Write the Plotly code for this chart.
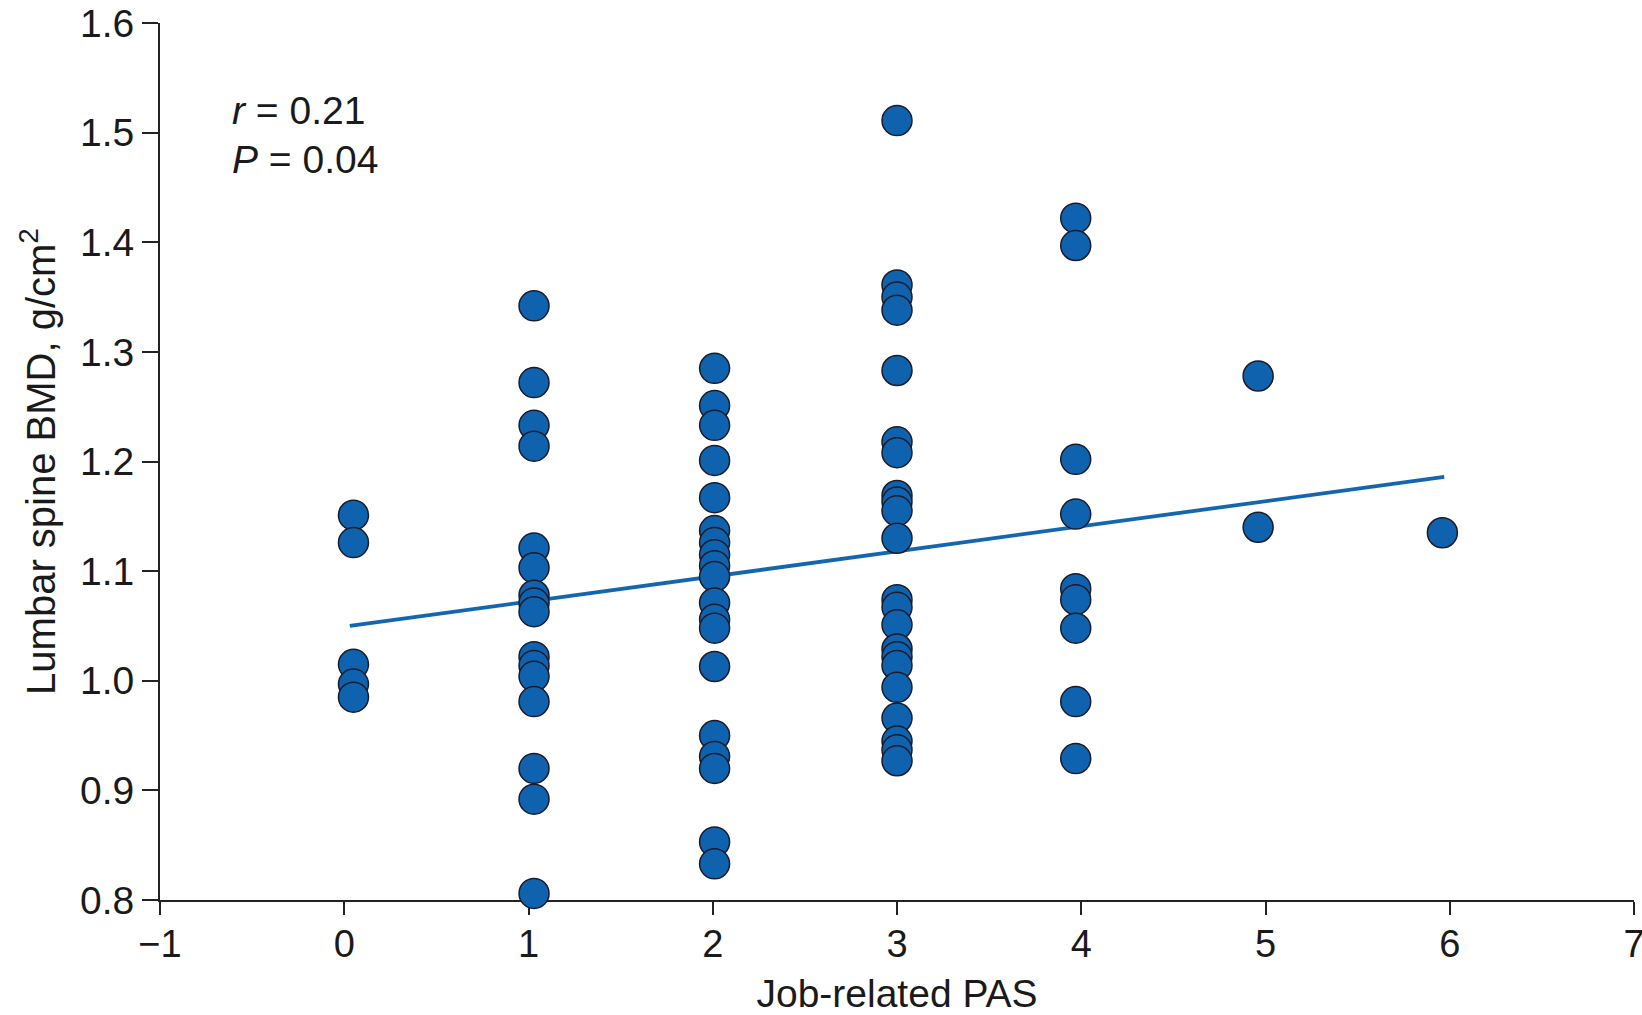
import plotly.graph_objects as go

# Job-related PAS score positions (as drawn) and lumbar spine BMD values (g/cm^2)
pas_positions = [0.05, 1.03, 2.01, 3.0, 3.97, 4.96, 5.96]

bmd_pas0 = [1.151, 1.126, 1.015, 0.997, 0.985]
bmd_pas1 = [1.342, 1.272, 1.233, 1.214, 1.121, 1.103, 1.078, 1.071, 1.063,
            1.022, 1.014, 1.004, 0.981, 0.920, 0.892, 0.806]
bmd_pas2 = [1.285, 1.251, 1.233, 1.201, 1.167, 1.137, 1.126, 1.115, 1.105,
            1.095, 1.071, 1.056, 1.048, 1.013, 0.950, 0.931, 0.920, 0.853, 0.833]
bmd_pas3 = [1.511, 1.361, 1.350, 1.338, 1.283, 1.218, 1.208, 1.169, 1.163,
            1.155, 1.130, 1.074, 1.067, 1.051, 1.029, 1.022, 1.014, 0.994,
            0.966, 0.945, 0.937, 0.927]
bmd_pas4 = [1.422, 1.397, 1.202, 1.152, 1.084, 1.074, 1.048, 0.981, 0.929]
bmd_pas5 = [1.278, 1.140]
bmd_pas6 = [1.135]

groups = [bmd_pas0, bmd_pas1, bmd_pas2, bmd_pas3, bmd_pas4, bmd_pas5, bmd_pas6]

# Regression line end points
line_x = [0.03, 5.97]
line_y = [1.050, 1.186]

x_ticks = [-1, 0, 1, 2, 3, 4, 5, 6, 7]
y_ticks = [0.8, 0.9, 1.0, 1.1, 1.2, 1.3, 1.4, 1.5, 1.6]
y_tick_text = ["0.8", "0.9", "1.0", "1.1", "1.2", "1.3", "1.4", "1.5", "1.6"]

stat_lines = ["<i>r</i> = 0.21", "<i>P</i> = 0.04"]

xs, ys = [], []
for pos, vals in zip(pas_positions, groups):
    xs += [pos] * len(vals)
    ys += vals

BLUE = "#0f63ae"
AXIS = "#222222"
FONT = "Liberation Sans, Arial, Helvetica, sans-serif"

fig = go.Figure()
fig.add_trace(go.Scatter(
    x=line_x, y=line_y, mode="lines",
    line=dict(color="#1466b1", width=3.8),
    hoverinfo="skip", showlegend=False, cliponaxis=False,
))
fig.add_trace(go.Scatter(
    x=xs, y=ys, mode="markers",
    marker=dict(size=30, color=BLUE, line=dict(color="#1b1b2b", width=1.5)),
    showlegend=False, cliponaxis=False,
))

fig.update_layout(
    width=1642, height=1015,
    margin=dict(l=160, r=8, t=23, b=115),
    paper_bgcolor="white", plot_bgcolor="white",
    font=dict(family=FONT, color="#1a1a1a", size=38),
    xaxis=dict(
        range=[-1, 7], tickvals=x_ticks,
        showgrid=False, zeroline=False, automargin=False,
        showline=True, linecolor=AXIS, linewidth=2,
        ticks="outside", ticklen=13, tickwidth=2, tickcolor=AXIS,
        tickfont=dict(size=38), ticklabelstandoff=-4, ticklabeloverflow="allow",
        title=dict(text="Job-related PAS", font=dict(size=39), standoff=20),
        layer="below traces",
    ),
    yaxis=dict(
        range=[0.8, 1.6], tickvals=y_ticks, ticktext=y_tick_text,
        showgrid=False, zeroline=False, automargin=False,
        showline=True, linecolor=AXIS, linewidth=2,
        ticks="outside", ticklen=16, tickwidth=2, tickcolor=AXIS,
        tickfont=dict(size=39), ticklabelstandoff=0, ticklabeloverflow="allow",
        title=dict(text="Lumbar spine BMD, g/cm<sup>2</sup>", font=dict(size=40), standoff=12),
        layer="below traces",
    ),
)

stat_y = [0.9004, 0.8445]
for txt, yy in zip(stat_lines, stat_y):
    fig.add_annotation(
        xref="paper", yref="paper",
        x=0.0475, y=yy,
        xanchor="left", yanchor="middle",
        text=txt, showarrow=False,
        font=dict(size=39, family=FONT, color="#1a1a1a"),
    )

fig.write_html("out.html", config={"displayModeBar": False},
               post_script="document.body.style.margin='0px';")
